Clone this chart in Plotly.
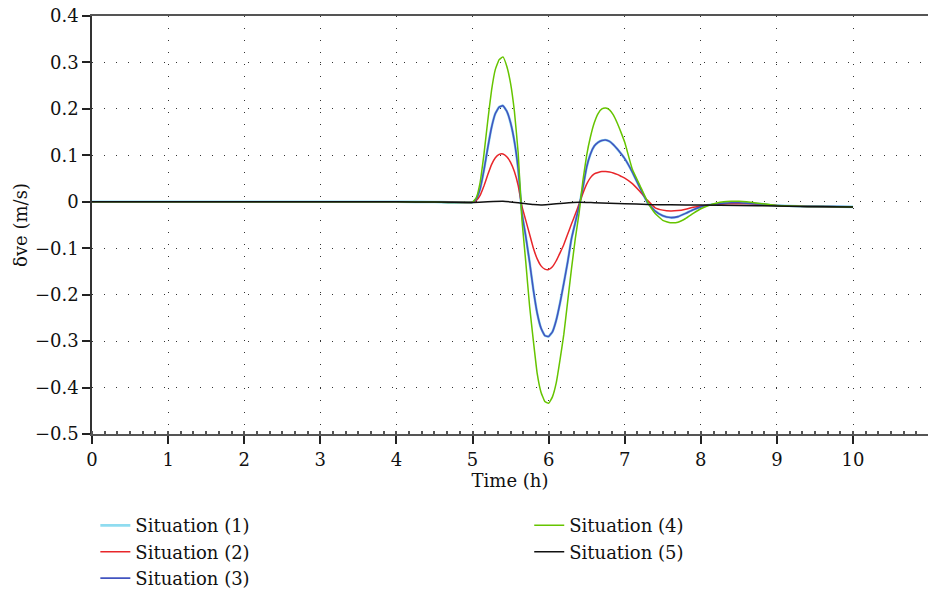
import plotly.graph_objects as go

# Time axis (h)
t = [0, 1, 2, 3, 4, 4.5, 5.0, 5.05, 5.1, 5.15, 5.2, 5.25, 5.3, 5.35, 5.4, 5.45,
     5.5, 5.55, 5.6, 5.65, 5.7, 5.75, 5.8, 5.85, 5.9, 5.95, 6.0, 6.05, 6.1, 6.15,
     6.2, 6.25, 6.3, 6.35, 6.4, 6.45, 6.5, 6.55, 6.6, 6.65, 6.7, 6.75, 6.8, 6.85,
     6.9, 6.95, 7.0, 7.1, 7.2, 7.3, 7.4, 7.5, 7.6, 7.7, 7.8, 7.9, 8.0, 8.1, 8.2,
     8.3, 8.4, 8.5, 8.6, 8.7, 8.8, 8.9, 9.0, 9.2, 9.4, 9.6, 10.0]

# Situation (3) — blue
s3 = [0, 0, 0, 0, 0, -0.0005, -0.001, 0.006, 0.028, 0.068, 0.116, 0.16, 0.19, 0.204, 0.207, 0.195,
      0.17, 0.13, 0.07, -0.025, -0.075, -0.13, -0.19, -0.24, -0.272, -0.288, -0.29, -0.28, -0.255, -0.218,
      -0.175, -0.13, -0.08, -0.045, -0.01, 0.03, 0.075, 0.103, 0.12, 0.128, 0.132, 0.133, 0.13, 0.123,
      0.114, 0.104, 0.093, 0.064, 0.03, -0.002, -0.02, -0.03, -0.034, -0.032, -0.025, -0.017, -0.011, -0.007, -0.005,
      -0.003, -0.002, -0.002, -0.003, -0.004, -0.005, -0.007, -0.008, -0.009, -0.01, -0.01, -0.011]

# Situation (1) — light blue, coincides with situation (3)
s1 = [0, 0, 0, 0, 0, -0.0005, -0.001, 0.006, 0.028, 0.068, 0.116, 0.16, 0.19, 0.204, 0.207, 0.195,
      0.17, 0.13, 0.07, -0.025, -0.075, -0.13, -0.19, -0.24, -0.272, -0.288, -0.29, -0.28, -0.255, -0.218,
      -0.175, -0.13, -0.08, -0.045, -0.01, 0.03, 0.075, 0.103, 0.12, 0.128, 0.132, 0.133, 0.13, 0.123,
      0.114, 0.104, 0.093, 0.064, 0.03, -0.002, -0.02, -0.03, -0.034, -0.032, -0.025, -0.017, -0.011, -0.007, -0.005,
      -0.003, -0.002, -0.002, -0.003, -0.004, -0.005, -0.007, -0.008, -0.009, -0.01, -0.01, -0.011]

# Situation (2) — red
s2 = [0, 0, 0, 0, 0, -0.0005, -0.001, 0.003, 0.014, 0.034, 0.058, 0.08, 0.095, 0.102, 0.103, 0.097,
      0.085, 0.065, 0.035, -0.01, -0.04, -0.07, -0.1, -0.123, -0.138, -0.145, -0.146, -0.14, -0.127, -0.11,
      -0.092, -0.07, -0.048, -0.027, -0.005, 0.018, 0.038, 0.052, 0.06, 0.063, 0.065, 0.065, 0.064, 0.062,
      0.059, 0.055, 0.051, 0.039, 0.022, 0.003, -0.013, -0.018, -0.02, -0.019, -0.016, -0.012, -0.009, -0.007, -0.006,
      -0.005, -0.004, -0.004, -0.004, -0.005, -0.006, -0.007, -0.008, -0.009, -0.01, -0.01, -0.011]

# Situation (4) — green
s4 = [0, 0, 0, 0, 0, -0.0005, -0.001, 0.009, 0.042, 0.102, 0.174, 0.24, 0.285, 0.306, 0.312, 0.292,
      0.255, 0.195, 0.105, -0.04, -0.13, -0.225, -0.3, -0.37, -0.41, -0.43, -0.434, -0.42, -0.39, -0.34,
      -0.285, -0.215, -0.145, -0.08, -0.025, 0.045, 0.1, 0.14, 0.17, 0.19, 0.2, 0.202, 0.198, 0.187,
      0.17, 0.15, 0.128, 0.07, 0.035, 0.0, -0.025, -0.04, -0.045, -0.044, -0.036, -0.025, -0.015, -0.008, -0.003,
      0.0, 0.001, 0.001, 0.0, -0.002, -0.004, -0.006, -0.008, -0.009, -0.01, -0.01, -0.011]

# Situation (5) — black
t5 = [0, 1, 2, 3, 4, 4.5, 5.0, 5.2, 5.4, 5.6, 5.8, 5.9, 6.0, 6.2, 6.4, 6.6, 6.8, 7.0,
      7.3, 7.6, 8.0, 8.5, 9.0, 9.3, 10.0]
s5 = [0, 0, 0, 0, 0, -0.0005, -0.0015, 0.0, 0.001, -0.002, -0.006, -0.007, -0.006, -0.003, -0.001,
      -0.002, -0.003, -0.004, -0.006, -0.0065, -0.007, -0.008, -0.009, -0.010, -0.011]

names = ["Situation (1)", "Situation (2)", "Situation (3)", "Situation (4)", "Situation (5)"]
colors = ["#8fdcf0", "#e8262a", "#4254c0", "#66c400", "#111111"]
widths = [2.6, 1.5, 1.6, 1.5, 1.5]
legends = ["legend", "legend", "legend", "legend2", "legend2"]

FONT = "DejaVu Serif"

fig = go.Figure()
series = [(t, s1), (t, s2), (t, s3), (t, s4), (t5, s5)]
for i, (xs, ys) in enumerate(series):
    fig.add_trace(go.Scatter(
        x=xs, y=ys, mode="lines", name=names[i],
        line=dict(color=colors[i], width=widths[i], shape="spline", smoothing=0.35),
        legend=legends[i],
    ))

grid = dict(showgrid=True, gridcolor="#333333", gridwidth=1, griddash="1px,11px")
tickfont = dict(family=FONT, size=18, color="#111111")

fig.update_layout(
    width=928, height=593,
    margin=dict(l=92, r=0, t=16, b=159, autoexpand=False),
    paper_bgcolor="white", plot_bgcolor="white",
    font=dict(family=FONT, size=18, color="#111111"),
    showlegend=True,
    xaxis=dict(
        range=[0, 10.985], tick0=0, dtick=1, ticks="outside", ticklen=8, tickwidth=1.5,
        tickcolor="#222", showline=True, linecolor="#555555", linewidth=2, mirror=True,
        zeroline=False, tickfont=tickfont,
        minor=dict(dtick=1/6, ticks="inside", ticklen=3, tickcolor="#555", showgrid=False),
        title=dict(text="Time (h)", standoff=5, font=tickfont),
        **grid,
    ),
    yaxis=dict(
        range=[-0.5, 0.4], tick0=0, dtick=0.1, ticks="outside", ticklen=8, tickwidth=1.5,
        tickcolor="#222", showline=True, linecolor="#333333", linewidth=1.5,
        zeroline=False, tickfont=tickfont,
        title=dict(text="δve (m/s)", standoff=3, font=tickfont),
        **grid,
    ),
    legend=dict(x=0.004, y=-0.175, xanchor="left", yanchor="top", bgcolor="rgba(0,0,0,0)",
                font=dict(family=FONT, size=18, color="#111111"), tracegroupgap=0),
    legend2=dict(x=0.523, y=-0.175, xanchor="left", yanchor="top", bgcolor="rgba(0,0,0,0)",
                 font=dict(family=FONT, size=18, color="#111111"), tracegroupgap=0),
)

fig.write_html("out.html")
